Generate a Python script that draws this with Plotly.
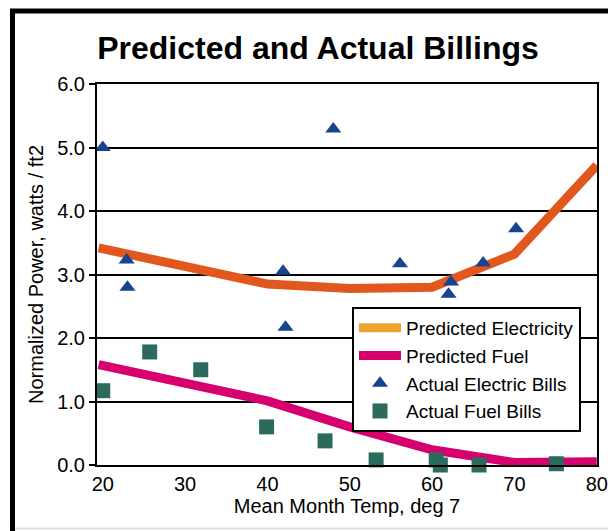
import plotly.graph_objects as go

# ---- data ----
pred_temp = [19.5, 40, 50, 60, 70, 80]
pred_elec = [3.42, 2.85, 2.78, 2.80, 3.32, 4.72]
pred_fuel = [1.58, 1.01, 0.60, 0.24, 0.04, 0.05]

elec_temp = [20.0, 22.9, 23.0, 41.9, 42.2, 48.0, 56.1, 62.3, 62.0, 66.2, 70.2]
elec_bill = [5.00, 3.23, 2.80, 3.05, 2.17, 5.29, 3.17, 2.88, 2.69, 3.18, 3.72]

fuel_temp = [20.0, 25.7, 31.9, 39.9, 47.0, 53.2, 60.5, 61.0, 65.7, 75.1]
fuel_bill = [1.17, 1.78, 1.50, 0.60, 0.38, 0.08, 0.08, 0.00, 0.00, 0.02]

x_ticks = [20, 30, 40, 50, 60, 70, 80]
y_ticks = [0, 1, 2, 3, 4, 5, 6]
y_tick_text = ["0.0", "1.0", "2.0", "3.0", "4.0", "5.0", "6.0"]

ORANGE = "#E2571E"
ORANGE_LEG = "#F0A22E"
MAGENTA = "#D6006F"
NAVY = "#17448F"
TEAL = "#2B6A5C"
FONT = "Liberation Sans, Arial, sans-serif"

fig = go.Figure()
fig.add_trace(go.Scatter(x=pred_temp, y=pred_elec, mode="lines",
                         line=dict(color=ORANGE, width=9),
                         showlegend=False))
fig.add_trace(go.Scatter(x=[None], y=[None], mode="lines", name="Predicted Electricity",
                         line=dict(color=ORANGE_LEG, width=9)))
fig.add_trace(go.Scatter(x=pred_temp, y=pred_fuel, mode="lines", name="Predicted Fuel",
                         line=dict(color=MAGENTA, width=9)))
fig.add_trace(go.Scatter(x=elec_temp, y=elec_bill, mode="markers", name="Actual Electric Bills",
                         marker=dict(symbol="triangle-up", size=14, color=NAVY),
                         cliponaxis=False))
fig.add_trace(go.Scatter(x=fuel_temp, y=fuel_bill, mode="markers", name="Actual Fuel Bills",
                         marker=dict(symbol="square", size=15, color=TEAL),
                         cliponaxis=False))

L, R, T, B = 97, 11, 84, 66
W, H = 608, 531
pw, ph = W - L - R, H - T - B

def px_x(p):
    return (p - L) / pw

def px_y(p):
    return (H - B - p) / ph

shapes = [
    dict(type="line", xref="paper", yref="paper", x0=px_x(12.5), x1=px_x(12.5),
         y0=px_y(9), y1=px_y(H + 5), line=dict(color="black", width=5), layer="above"),
    dict(type="line", xref="paper", yref="paper", x0=px_x(10), x1=px_x(W + 5),
         y0=px_y(11), y1=px_y(11), line=dict(color="black", width=5), layer="above"),
    dict(type="line", xref="paper", yref="paper", x0=px_x(15), x1=px_x(W + 5),
         y0=px_y(528.5), y1=px_y(528.5), line=dict(color="#DDDDDD", width=2), layer="above"),
]

fig.update_layout(
    width=W, height=H,
    margin=dict(l=L, r=R, t=T, b=B, autoexpand=False),
    paper_bgcolor="white", plot_bgcolor="white",
    font=dict(family=FONT, size=20, color="black"),
    title=dict(text="<b>Predicted and Actual Billings</b>",
               font=dict(family=FONT, size=32, color="black"),
               x=0.442, xref="paper", xanchor="center",
               y=1 - 48 / H, yref="container", yanchor="middle"),
    xaxis=dict(range=[19.3, 80.03], tickvals=x_ticks, showgrid=False, zeroline=False,
               showline=True, linecolor="black", linewidth=2, mirror=True,
               ticks="", tickfont=dict(size=20),
               title=dict(text="Mean Month Temp, deg 7", font=dict(size=20), standoff=4)),
    yaxis=dict(range=[0, 6], tickvals=y_ticks, ticktext=y_tick_text,
               showgrid=True, gridcolor="black", gridwidth=2, zeroline=False,
               showline=True, linecolor="black", linewidth=2, mirror=True,
               ticks="outside", ticklen=6, tickwidth=2, tickcolor="black",
               tickfont=dict(size=20),
               title=dict(text="Normalized Power, watts / ft2", font=dict(size=20), standoff=8)),
    legend=dict(x=px_x(352), y=px_y(307), xanchor="left", yanchor="top",
                bgcolor="white", bordercolor="black", borderwidth=2,
                font=dict(size=19), itemwidth=42),
    shapes=shapes,
)

fig.write_html("out.html", config={"displayModeBar": False},
               post_script="document.body.style.margin='0';document.body.style.overflow='hidden';")
